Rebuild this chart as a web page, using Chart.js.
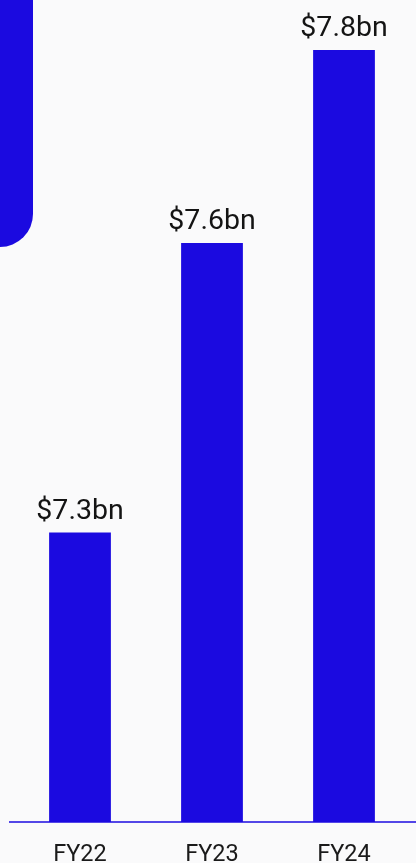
<!DOCTYPE html>
<html>
<head>
<meta charset="utf-8">
<script src="https://cdn.jsdelivr.net/npm/chart.js@4/dist/chart.umd.min.js"></script>
<style>
  html, body { margin: 0; padding: 0; background: #fafafb; overflow: hidden; }
  #wrap { position: relative; width: 416px; height: 863px; }
  #deco { position: absolute; left: 0; top: 0; width: 33px; height: 247px; background: #1b0ae0; border-bottom-right-radius: 34px; }
  canvas { position: absolute; left: 0; top: 0; }
</style>
</head>
<body>
<div id="wrap">
  <div id="deco"></div>
  <canvas id="c" width="416" height="863"></canvas>
</div>
<script>
const categories = ["FY22", "FY23", "FY24"];
const revenueBn = [7.3, 7.6, 7.8];
const BAR_COLOR = "#1b0ae0";

const valueLabels = {
  id: "valueLabels",
  afterDatasetsDraw(chart) {
    const ctx = chart.ctx;
    const meta = chart.getDatasetMeta(0);
    ctx.save();
    ctx.font = "28.5px Roboto";
    ctx.fillStyle = "#141414";
    ctx.textAlign = "center";
    ctx.textBaseline = "alphabetic";
    meta.data.forEach((bar, i) => {
      ctx.fillText("$" + revenueBn[i].toFixed(1) + "bn", bar.x, bar.y - 14);
    });
    ctx.restore();
  }
};

const baseline = {
  id: "baseline",
  afterDatasetsDraw(chart) {
    const ctx = chart.ctx;
    const y = chart.scales.y.getPixelForValue(chart.scales.y.min);
    ctx.save();
    ctx.strokeStyle = BAR_COLOR;
    ctx.lineWidth = 1.5;
    ctx.beginPath();
    ctx.moveTo(9, y);
    ctx.lineTo(chart.width, y);
    ctx.stroke();
    ctx.restore();
  }
};

new Chart(document.getElementById("c"), {
  type: "bar",
  data: {
    labels: categories,
    datasets: [{
      data: revenueBn,
      backgroundColor: BAR_COLOR,
      borderWidth: 0,
      barPercentage: 0.468,
      categoryPercentage: 1
    }]
  },
  options: {
    responsive: false,
    animation: false,
    layout: { padding: { left: 14, right: 6, top: 50, bottom: 0 } },
    plugins: { legend: { display: false }, tooltip: { enabled: false } },
    scales: {
      y: { display: false, min: 7.0, max: 7.8 },
      x: {
        afterFit(scale) { scale.height = 41; },
        grid: { display: false, drawTicks: false },
        border: { display: false },
        ticks: { color: "#1a1a1a", font: { family: "Roboto", size: 23.5 }, padding: 19 }
      }
    }
  },
  plugins: [valueLabels, baseline]
});
</script>
</body>
</html>
